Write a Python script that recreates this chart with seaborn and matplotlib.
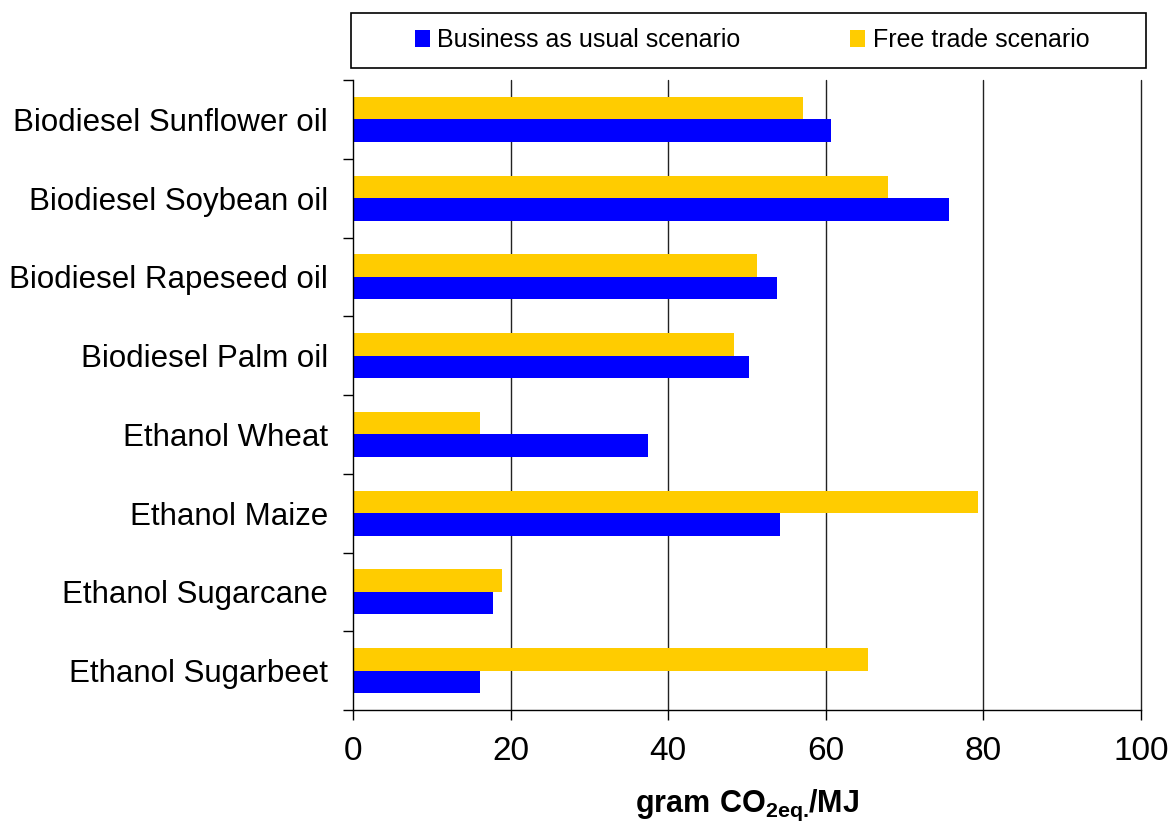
import pandas as pd
import numpy as np
import matplotlib
matplotlib.use('Agg')
import matplotlib.pyplot as plt
from matplotlib.patches import Rectangle, Patch
import seaborn as sns

# data
crops = ['Biodiesel Sunflower oil', 'Biodiesel Soybean oil', 'Biodiesel Rapeseed oil',
         'Biodiesel Palm oil', 'Ethanol Wheat', 'Ethanol Maize',
         'Ethanol Sugarcane', 'Ethanol Sugarbeet']
business_as_usual = [60.7, 75.6, 53.8, 50.3, 37.4, 54.2, 17.8, 16.1]
free_trade = [57.1, 67.9, 51.3, 48.4, 16.1, 79.3, 18.9, 65.4]
scenarios = ['Business as usual scenario', 'Free trade scenario']
colors = {'Business as usual scenario': '#0000FF', 'Free trade scenario': '#FFCC00'}

df = pd.DataFrame({
    'crop': crops * 2,
    'value': business_as_usual + free_trade,
    'scenario': [scenarios[0]] * len(crops) + [scenarios[1]] * len(crops),
})

sns.set_style('white')
plt.rcParams['font.family'] = ['Liberation Sans', 'DejaVu Sans']
plt.rcParams['text.color'] = 'black'
plt.rcParams['axes.labelcolor'] = 'black'
plt.rcParams['xtick.color'] = 'black'
plt.rcParams['ytick.color'] = 'black'
plt.rcParams['mathtext.fontset'] = 'custom'
plt.rcParams['mathtext.rm'] = 'Liberation Sans'
plt.rcParams['mathtext.bf'] = 'Liberation Sans:bold'

fig = plt.figure(figsize=(11.72, 8.23), dpi=100)
ax = fig.add_axes([353 / 1172, 1 - 710 / 823, 788 / 1172, 630 / 823])

# yellow drawn on top within each group
sns.barplot(data=df, y='crop', x='value', hue='scenario', order=crops,
            hue_order=[scenarios[1], scenarios[0]], palette=colors,
            orient='h', width=0.57, saturation=1, linewidth=0, ax=ax, legend=False)

ax.set_xlim(0, 100)
ax.set_ylim(len(crops) - 0.5, -0.5)
ax.set_xticks(np.arange(0, 101, 20))
ax.set_xticklabels([str(v) for v in range(0, 101, 20)], fontsize=24)
ax.tick_params(axis='x', bottom=True, direction='out', length=7, width=1, pad=12,
               colors='black')
ax.tick_params(axis='y', which='major', left=True, length=0, pad=18, labelsize=22.5,
               labelcolor='black')
ax.set_yticks(np.arange(-0.5, len(crops), 1), minor=True)
ax.tick_params(axis='y', which='minor', left=True, direction='out', length=7, width=1,
               color='black')

for x in range(20, 101, 20):
    ax.axvline(x, color='#222222', lw=1, zorder=0, clip_on=False)

for side in ['top', 'right']:
    ax.spines[side].set_visible(False)
for side in ['left', 'bottom']:
    ax.spines[side].set_color('black')
    ax.spines[side].set_linewidth(1)

ax.set_ylabel('')
ax.set_xlabel(r'$\mathbf{gram\ CO_{2eq.}}\!\mathbf{/MJ}$', fontsize=22, labelpad=15)

# legend box across the top
fig.patches.append(Rectangle((351 / 1172, 1 - 68 / 823), 795 / 1172, 55 / 823,
                             transform=fig.transFigure, facecolor='white',
                             edgecolor='black', lw=1.2))
handles = [Patch(facecolor=colors[s], edgecolor='none') for s in scenarios]
fig.legend(handles, scenarios, loc='center', bbox_to_anchor=(752 / 1172, 1 - 40 / 823),
           ncol=2, frameon=False, fontsize=18, handlelength=0.6, handleheight=0.7,
           handletextpad=0.3, columnspacing=4.4)

fig.savefig('out.png', dpi=100)
